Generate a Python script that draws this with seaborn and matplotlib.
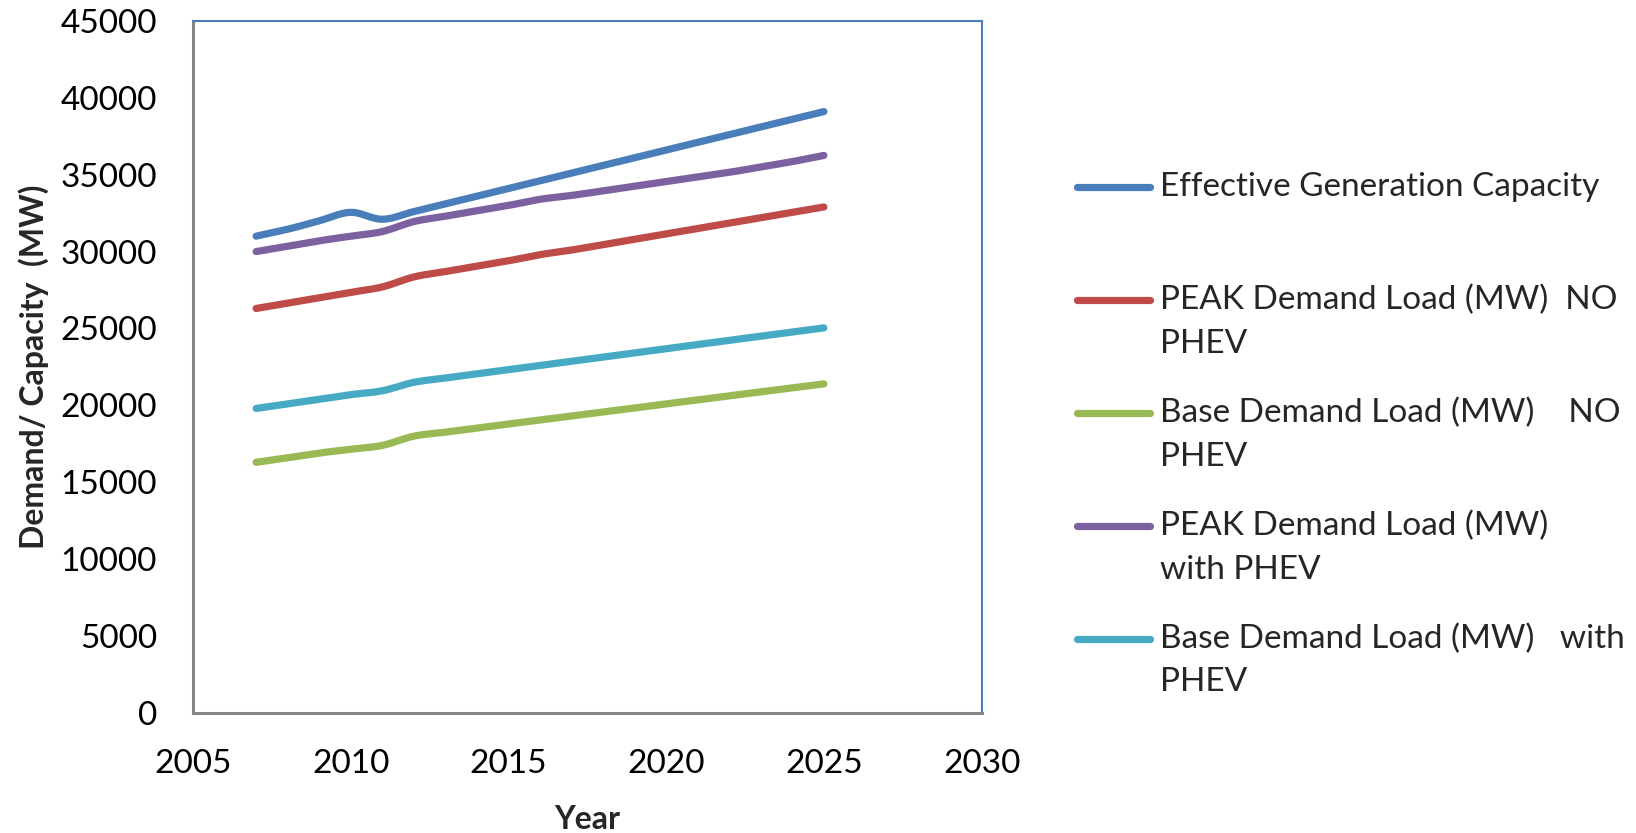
import numpy as np
import pandas as pd
import matplotlib
matplotlib.use("Agg")
import matplotlib.pyplot as plt
from matplotlib.legend_handler import HandlerLine2D
import seaborn as sns

# ---- data -------------------------------------------------------------
years = list(range(2007, 2026))

effective_capacity = [31000, 31450, 32000, 32550, 32100, 32600, 33100, 33600, 34100,
                      34600, 35100, 35600, 36100, 36600, 37100, 37600, 38100, 38600, 39100]
peak_no_phev = [26300, 26650, 27000, 27350, 27700, 28350, 28700, 29050, 29400,
                29800, 30100, 30450, 30800, 31150, 31500, 31850, 32200, 32550, 32900]
base_no_phev = [16300, 16600, 16900, 17150, 17400, 18000, 18260, 18520, 18790,
                19050, 19310, 19570, 19830, 20100, 20360, 20620, 20880, 21140, 21400]
peak_with_phev = [30000, 30350, 30700, 31000, 31300, 31950, 32300, 32650, 33000,
                  33400, 33650, 33950, 34250, 34550, 34850, 35150, 35500, 35850, 36250]
base_with_phev = [19800, 20100, 20400, 20700, 20950, 21500, 21780, 22050, 22320,
                  22600, 22870, 23150, 23420, 23690, 23960, 24230, 24500, 24770, 25040]

series_labels = [
    "Effective Generation Capacity",
    "PEAK Demand Load (MW)  NO\nPHEV",
    "Base Demand Load (MW)    NO\nPHEV",
    "PEAK Demand Load (MW)\nwith PHEV",
    "Base Demand Load (MW)   with\nPHEV",
]
series_values = [effective_capacity, peak_no_phev, base_no_phev,
                 peak_with_phev, base_with_phev]
series_colors = ["#4A7EBB", "#BE4B48", "#98B954", "#7D60A0", "#46AAC5"]

x_ticks = [2005, 2010, 2015, 2020, 2025, 2030]
y_ticks = list(range(0, 45001, 5000))


def smooth(xs, ys, n=20):
    """Catmull-Rom smoothing of a polyline (spreadsheet-style smoothed line)."""
    xs = np.asarray(xs, float)
    ys = np.asarray(ys, float)
    px = np.concatenate([[2 * xs[0] - xs[1]], xs, [2 * xs[-1] - xs[-2]]])
    py = np.concatenate([[2 * ys[0] - ys[1]], ys, [2 * ys[-1] - ys[-2]]])
    out_x, out_y = [], []
    t = np.linspace(0, 1, n, endpoint=False)
    for i in range(1, len(px) - 2):
        for p, out in ((px, out_x), (py, out_y)):
            p0, p1, p2, p3 = p[i - 1], p[i], p[i + 1], p[i + 2]
            out.extend(0.5 * ((2 * p1) + (-p0 + p2) * t
                              + (2 * p0 - 5 * p1 + 4 * p2 - p3) * t ** 2
                              + (-p0 + 3 * p1 - 3 * p2 + p3) * t ** 3))
    out_x.append(xs[-1])
    out_y.append(ys[-1])
    return out_x, out_y


class FirstLineHandler(HandlerLine2D):
    """Legend line handler that lifts the sample line to the first text row."""

    def __init__(self, dy, **kw):
        super().__init__(**kw)
        self.dy = dy

    def create_artists(self, legend, orig_handle, xdescent, ydescent, width,
                       height, fontsize, trans):
        artists = super().create_artists(legend, orig_handle, xdescent, ydescent,
                                         width, height, fontsize, trans)
        for a in artists:
            a.set_ydata(np.asarray(a.get_ydata(), float) + self.dy)
        return artists


frames = []
for label, vals in zip(series_labels, series_values):
    sx, sy = smooth(years, vals)
    frames.append(pd.DataFrame({"Year": sx, "Value": sy, "Series": label}))
df = pd.concat(frames, ignore_index=True)

# ---- figure -----------------------------------------------------------
sns.set_theme(style="white")
plt.rcParams["font.family"] = ["Lato", "DejaVu Sans"]

fig = plt.figure(figsize=(16.36, 8.33), dpi=100)
ax = fig.add_axes([0.118, 0.144, 0.482, 0.831])

sns.lineplot(data=df, x="Year", y="Value", hue="Series", hue_order=series_labels,
             palette=series_colors, linewidth=5.2, sort=False, estimator=None,
             ax=ax, legend=True)
for line in ax.lines:
    line.set_solid_capstyle("round")

ax.set_xlim(2005, 2030)
ax.set_ylim(0, 45000)
ax.set_xticks(x_ticks)
ax.set_yticks(y_ticks)
ax.tick_params(axis="both", length=0, labelsize=24, pad=26, colors="black")

ax.set_xlabel("Year", fontsize=23, fontweight="bold", labelpad=0)
ax.xaxis.set_label_coords(0.5, -0.133)
ax.set_ylabel("Demand/ Capacity  (MW)", fontsize=23, fontweight="bold")
ax.yaxis.set_label_coords(-0.183, 0.5)

for side in ("left", "bottom"):
    ax.spines[side].set_color("#868686")
    ax.spines[side].set_linewidth(2.2)
for side in ("top", "right"):
    ax.spines[side].set_color("#4A7EBB")
    ax.spines[side].set_linewidth(1.5)

# every legend entry takes two text rows; the sample line sits on the first
handles, labels = ax.get_legend_handles_labels()
labels = [lab if "\n" in lab else lab + "\n" for lab in labels]
line_pitch_pt = 32.0
handler = FirstLineHandler(dy=line_pitch_pt / 2)
leg = ax.legend(handles, labels, loc="upper left", bbox_to_anchor=(0.650, 0.809),
                bbox_transform=fig.transFigure, frameon=False, fontsize=24,
                handlelength=2.2, handletextpad=0.31, labelspacing=1.17,
                borderaxespad=0, handler_map={h: handler for h in handles})
for t in leg.get_texts():
    t.set_linespacing(1.56)
for h in leg.get_lines():
    h.set_linewidth(5.2)
    h.set_solid_capstyle("round")

fig.savefig("out.png", dpi=100)
